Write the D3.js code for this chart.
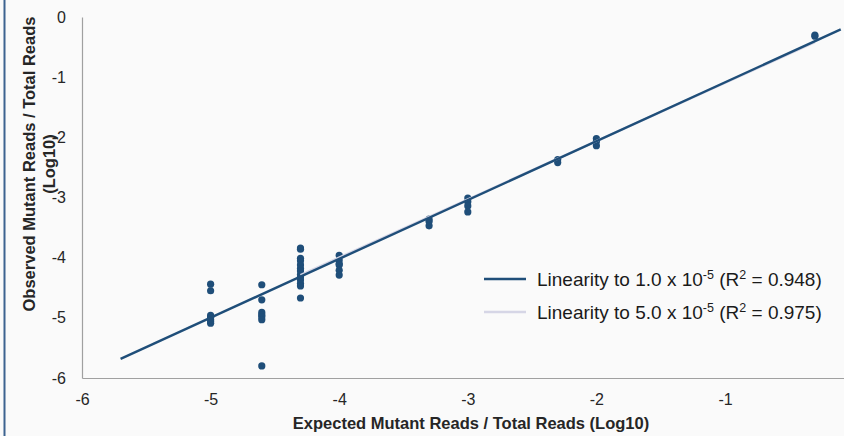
<!DOCTYPE html>
<html>
<head>
<meta charset="utf-8">
<script src="https://cdn.jsdelivr.net/npm/d3@7"></script>
<style>
  html, body { margin: 0; padding: 0; background: #fafafa; }
  svg { display: block; }
</style>
</head>
<body>
<svg id="chart" width="844" height="436"></svg>
<script>
// ---- data ----
const expectedLog = [-5, -4.602, -4.301, -4, -3.301, -3, -2.301, -2, -0.301];
const observedLog = [
  [-4.44, -4.55, -4.96, -4.99, -5.03, -5.06, -5.09],
  [-4.45, -4.70, -4.91, -4.95, -4.98, -5.03, -5.80],
  [-3.84, -3.86, -4.01, -4.05, -4.12, -4.18, -4.22, -4.28, -4.32, -4.37, -4.43, -4.47, -4.67],
  [-3.96, -4.04, -4.10, -4.12, -4.21, -4.29],
  [-3.36, -3.40, -3.47],
  [-3.01, -3.07, -3.14, -3.24],
  [-2.37, -2.42],
  [-2.02, -2.07, -2.14],
  [-0.30, -0.32]
];
const xTicks = [-6, -5, -4, -3, -2, -1];
const yTicks = [0, -1, -2, -3, -4, -5, -6];
const trendNames = ["Linearity to 1.0 x 10", "Linearity to 5.0 x 10"];
const trendExp = ["-5", "-5"];
const trendR2 = ["0.948", "0.975"];
const trendSlope = [0.978, 0.9675];
const trendIntercept = [-0.108, -0.128];
const trendFrom = [-5.7, -4.301];
const trendTo = [-0.1, -0.301];
const trendColors = ["#1f4e79", "#d6d6e6"];

// ---- drawing ----
const svg = d3.select("#chart");
const x = d3.scaleLinear().domain([-6, 0]).range([82, 853.6]);
const y = d3.scaleLinear().domain([-6, 0]).range([378, 17]);

svg.append("rect").attr("width", 844).attr("height", 436).attr("fill", "#fafafa");
// left frame edge
svg.append("line").attr("x1", 4.5).attr("x2", 4.5).attr("y1", 0).attr("y2", 436)
  .attr("stroke", "#3d6390").attr("stroke-width", 2);

const tickFont = "'Liberation Sans', sans-serif";
const fmt = d => String(d);

// axes
const xAxis = d3.axisBottom(x).tickValues(xTicks).tickSize(0).tickPadding(16).tickFormat(fmt);
const gx = svg.append("g").attr("transform", `translate(0,${y(-6)})`).call(xAxis);
gx.select(".domain").attr("stroke", "#a0a0a0").attr("stroke-width", 1.2);
gx.selectAll("text").attr("font-family", tickFont).attr("font-size", 16).attr("fill", "#262626");

const yAxis = d3.axisLeft(y).tickValues(yTicks).tickSize(0).tickPadding(16).tickFormat(fmt);
const gy = svg.append("g").attr("transform", `translate(${x(-6)},0)`).call(yAxis);
gy.select(".domain").attr("stroke", "#a0a0a0").attr("stroke-width", 1.2);
gy.selectAll("text").attr("font-family", tickFont).attr("font-size", 16).attr("fill", "#262626");

// points
const pts = [];
expectedLog.forEach((ex, i) => observedLog[i].forEach(v => pts.push([ex, v])));
svg.append("g").selectAll("circle").data(pts).join("circle")
  .attr("cx", d => x(d[0])).attr("cy", d => y(d[1])).attr("r", 3.6)
  .attr("fill", "#1f4e79");

// trendlines (light drawn first, dark over it)
[1, 0].forEach(i => {
  svg.append("line")
    .attr("x1", x(trendFrom[i])).attr("y1", y(trendSlope[i] * trendFrom[i] + trendIntercept[i]))
    .attr("x2", x(trendTo[i])).attr("y2", y(trendSlope[i] * trendTo[i] + trendIntercept[i]))
    .attr("stroke", trendColors[i]).attr("stroke-width", 2.4);
});

// legend
const legFont = "'Liberation Sans', sans-serif";
trendNames.forEach((name, i) => {
  const ly = 279 + i * 33;
  svg.append("line").attr("x1", 484).attr("x2", 526).attr("y1", ly).attr("y2", ly)
    .attr("stroke", trendColors[i]).attr("stroke-width", 2.4);
  const t = svg.append("text").attr("x", 537).attr("y", ly + 7)
    .attr("font-family", legFont).attr("font-size", 19).attr("fill", "#1a1a1a");
  t.append("tspan").text(name);
  t.append("tspan").attr("font-size", 12.5).attr("dy", -7).text(trendExp[i]);
  t.append("tspan").attr("dy", 7).text(" (R");
  t.append("tspan").attr("font-size", 12.5).attr("dy", -7).text("2");
  t.append("tspan").attr("dy", 7).text(" = " + trendR2[i] + ")");
});

// axis titles
const titleFont = "'Liberation Sans', sans-serif";
svg.append("text").attr("x", 471).attr("y", 429).attr("text-anchor", "middle")
  .attr("font-family", titleFont).attr("font-weight", "bold").attr("font-size", 16.5)
  .attr("fill", "#262626").text("Expected Mutant Reads / Total Reads (Log10)");

const yt = svg.append("text").attr("transform", "translate(0,164) rotate(-90)")
  .attr("text-anchor", "middle").attr("font-family", titleFont).attr("font-weight", "bold")
  .attr("font-size", 16.5).attr("fill", "#262626");
yt.append("tspan").attr("x", 0).attr("y", 35).text("Observed Mutant Reads / Total Reads");
yt.append("tspan").attr("x", 0).attr("y", 55).text("(Log10)");
</script>
</body>
</html>
